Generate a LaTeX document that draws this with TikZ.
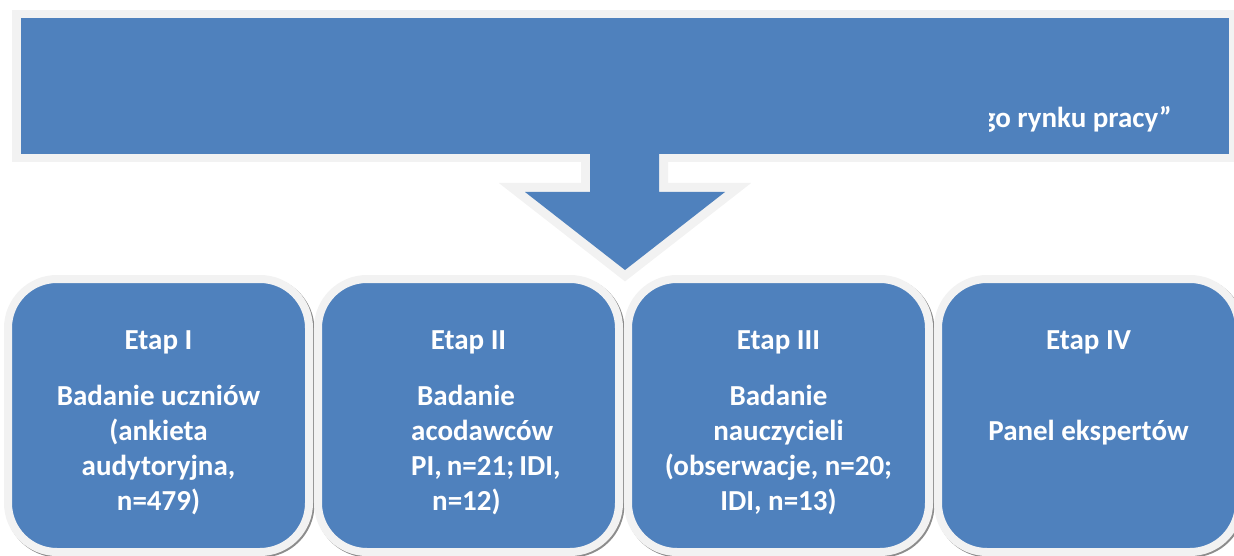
\documentclass[tikz,border=0pt]{standalone}
\usepackage{fontspec}
\setmainfont{Carlito}
\usepackage{tikz}
\usetikzlibrary{calc}
\definecolor{ofblue}{HTML}{4F81BD}
\definecolor{ofgray}{HTML}{F2F2F2}

\begin{document}
\begin{tikzpicture}[x=1pt, y=-1pt,
    banner/.style={draw=ofgray, fill=ofblue, line width=8.5pt, minimum width=1217pt, minimum height=144pt, inner sep=0pt},
    stagebox/.style={draw=ofgray, fill=ofblue, line width=8pt, rounded corners=49pt, minimum width=301pt, minimum height=273pt, inner sep=0pt},
    stagetext/.style={text=white, font=\fontsize{29}{35}\selectfont\bfseries, align=center, inner sep=0pt, anchor=base}]
    \useasboundingbox (0,0) rectangle (1234,556);
    % stages
    \foreach \i/\x in {1/158.5,2/468.5,3/778.5,4/1088.5} {
	\node[stagebox, draw=black!45, fill=black!45, xshift=1.5pt, yshift=-1.5pt] (shadow\i) at (\x,415.5) {};
	\node[stagebox] (etap\i) at (\x,415.5) {};
    }
    % arrow outline first, the banner covers its top
    \draw[ofgray, line width=18pt] (590,150) -- (590,192) -- (525,192) -- (625,270) -- (725,192) -- (659,192) -- (659,150) -- cycle;
    \node[banner] (title) at (625,86) {};
    \fill[ofblue] (590,150) -- (590,192) -- (525,192) -- (625,270) -- (725,192) -- (659,192) -- (659,150) -- cycle;
    \begin{scope}
	\clip (989,20) rectangle (1228,152);
	\node[stagetext, anchor=base east] (titletext) at (1172,128) {go rynku pracy”};
    \end{scope}
    % headings, then the texts below them (base = last line)
    \foreach \i/\etap in {1/I,2/II,3/III,4/IV}
	\node[stagetext] (etap\i head) at (etap\i |- 0,349) {Etap \etap};
    \node[stagetext] (etap1text) at (etap1 |- 0,510) {Badanie uczniów\\(ankieta\\audytoryjna,\\n=479)};
    \node[stagetext, align=left, anchor=base west] (etap2text) at (411,510) {\hspace*{6pt}Badanie\\acodawców\\PI,\hspace{5pt}n=21;\hspace{5pt}IDI,\\\hspace*{21pt}n=12)};
    \node[stagetext] (etap3text) at (etap3 |- 0,510) {Badanie\\nauczycieli\\(obserwacje, n=20;\\IDI, n=13)};
    \node[stagetext] (etap4text) at (etap4 |- 0,440) {Panel ekspertów};
\end{tikzpicture}
\end{document}
